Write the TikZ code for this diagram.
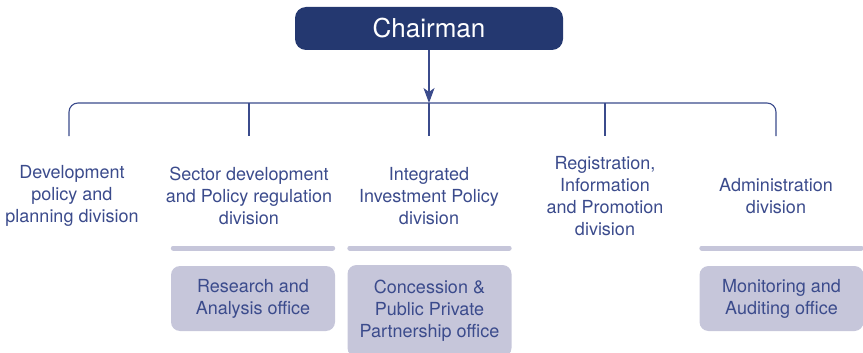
\documentclass[tikz,border=0pt]{standalone}
\usepackage{fontspec}
\setmainfont{TeX Gyre Heros}
\usetikzlibrary{arrows.meta}
\definecolor{navy}{RGB}{36,56,112}
\definecolor{inkblue}{RGB}{59,75,140}
\definecolor{lavender}{RGB}{198,198,218}
\tikzset{link/.style={draw=inkblue,line width=1.1pt}}
\tikzset{division/.style={text=inkblue,align=center,font=\fontsize{18}{22}\selectfont},
		 office/.style={division,fill=lavender,rounded corners=9pt,minimum width=164pt,minimum height=65pt,inner sep=0pt},
		 bar/.style={draw=lavender,line width=5pt,line cap=round}}

\begin{document}
\begin{tikzpicture}[x=1pt,y=-1pt]
	\useasboundingbox (0,0) rectangle (863,353);

	\node[fill=navy,text=white,rounded corners=11pt,minimum width=268pt,minimum height=43pt,
		font=\fontsize{26}{28}\selectfont] (chair) at (429,28.5) {Chairman};

	% divisions
	\node[division] (div1) at (72,196)  {Development\\policy and\\planning division};
	\node[division] (div2) at (249,196) {Sector development\\and Policy regulation\\division};
	\node[division] (div3) at (429,196) {Integrated\\Investment Policy\\division};
	\node[division] (div4) at (605,196) {Registration,\\Information\\and Promotion\\division};
	\node[division] (div5) at (776,196) {Administration\\division};

	\coordinate (bus) at (429,103);
	\foreach \i/\x in {1/69,2/249,3/429,4/605,5/776}
		\coordinate (top\i) at (\x,136);

	\draw[link,rounded corners=9pt] (top1) |- (bus) -| (top5);
	\foreach \i in {2,4}
		\draw[link] (top\i |- bus) -- (top\i);
	\draw[link,-{Stealth[length=15pt,width=11pt,inset=4pt]}] (chair) -- (bus);
	\draw[link] (bus) -- (top3);

	% offices
	\node[office] (off2) at (253,298.5) {Research and\\Analysis office};
	\node[office,minimum height=92pt] (off3) at (429.5,311) {Concession \&\\Public Private\\Partnership office};
	\node[office] (off5) at (781.5,298.5) {Monitoring and\\Auditing office};

	\foreach \o in {off2,off3,off5}
		\draw[bar] ([xshift=2.5pt]\o.west |- 0,248) -- ([xshift=-2.5pt]\o.east |- 0,248);
\end{tikzpicture}
\end{document}
